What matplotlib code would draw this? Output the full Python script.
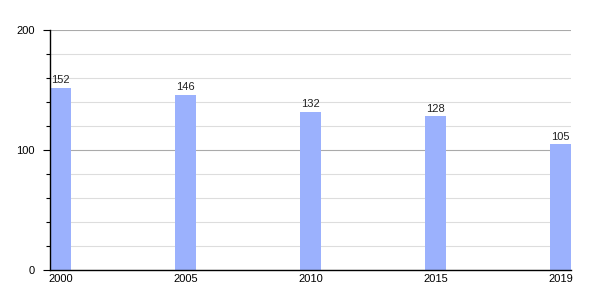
import numpy as np
import matplotlib.pyplot as plt
from matplotlib.ticker import MultipleLocator

# datos
years = ['2000', '2005', '2010', '2015', '2019']
values = [152, 146, 132, 128, 105]

plt.rcParams['font.family'] = ['Liberation Sans', 'DejaVu Sans']

fig = plt.figure(figsize=(6, 3), dpi=100)
ax = fig.add_axes([50 / 600, 0.1, 521 / 600, 0.8])

x = np.arange(len(years))
w = 0.168
bars = ax.bar(x, values, width=w, color='#9bb1fd', zorder=2)

for xi, v in zip(x, values):
    ax.text(xi, v + 2, str(v), ha='center', va='bottom', fontsize=8, color='#222222')

ax.set_xlim(-w / 2, len(years) - 1 + w / 2)
ax.set_ylim(0, 200)
ax.set_xticks(x)
ax.set_xticklabels(years, fontsize=8)
ax.yaxis.set_major_locator(MultipleLocator(100))
ax.yaxis.set_minor_locator(MultipleLocator(20))
ax.tick_params(axis='y', which='major', labelsize=8, length=5, width=0.8, pad=6)
ax.tick_params(axis='y', which='minor', length=3, width=0.8)
ax.tick_params(axis='x', length=0, pad=3)

ax.grid(axis='y', which='major', color='#aaaaaa', linewidth=0.8, zorder=0)
ax.grid(axis='y', which='minor', color='#dddddd', linewidth=0.8, zorder=0)

for s in ['top', 'right']:
    ax.spines[s].set_visible(False)
ax.spines['left'].set_linewidth(1)
ax.spines['bottom'].set_linewidth(1)
ax.set_axisbelow(True)

fig.savefig('out.png', dpi=100)
